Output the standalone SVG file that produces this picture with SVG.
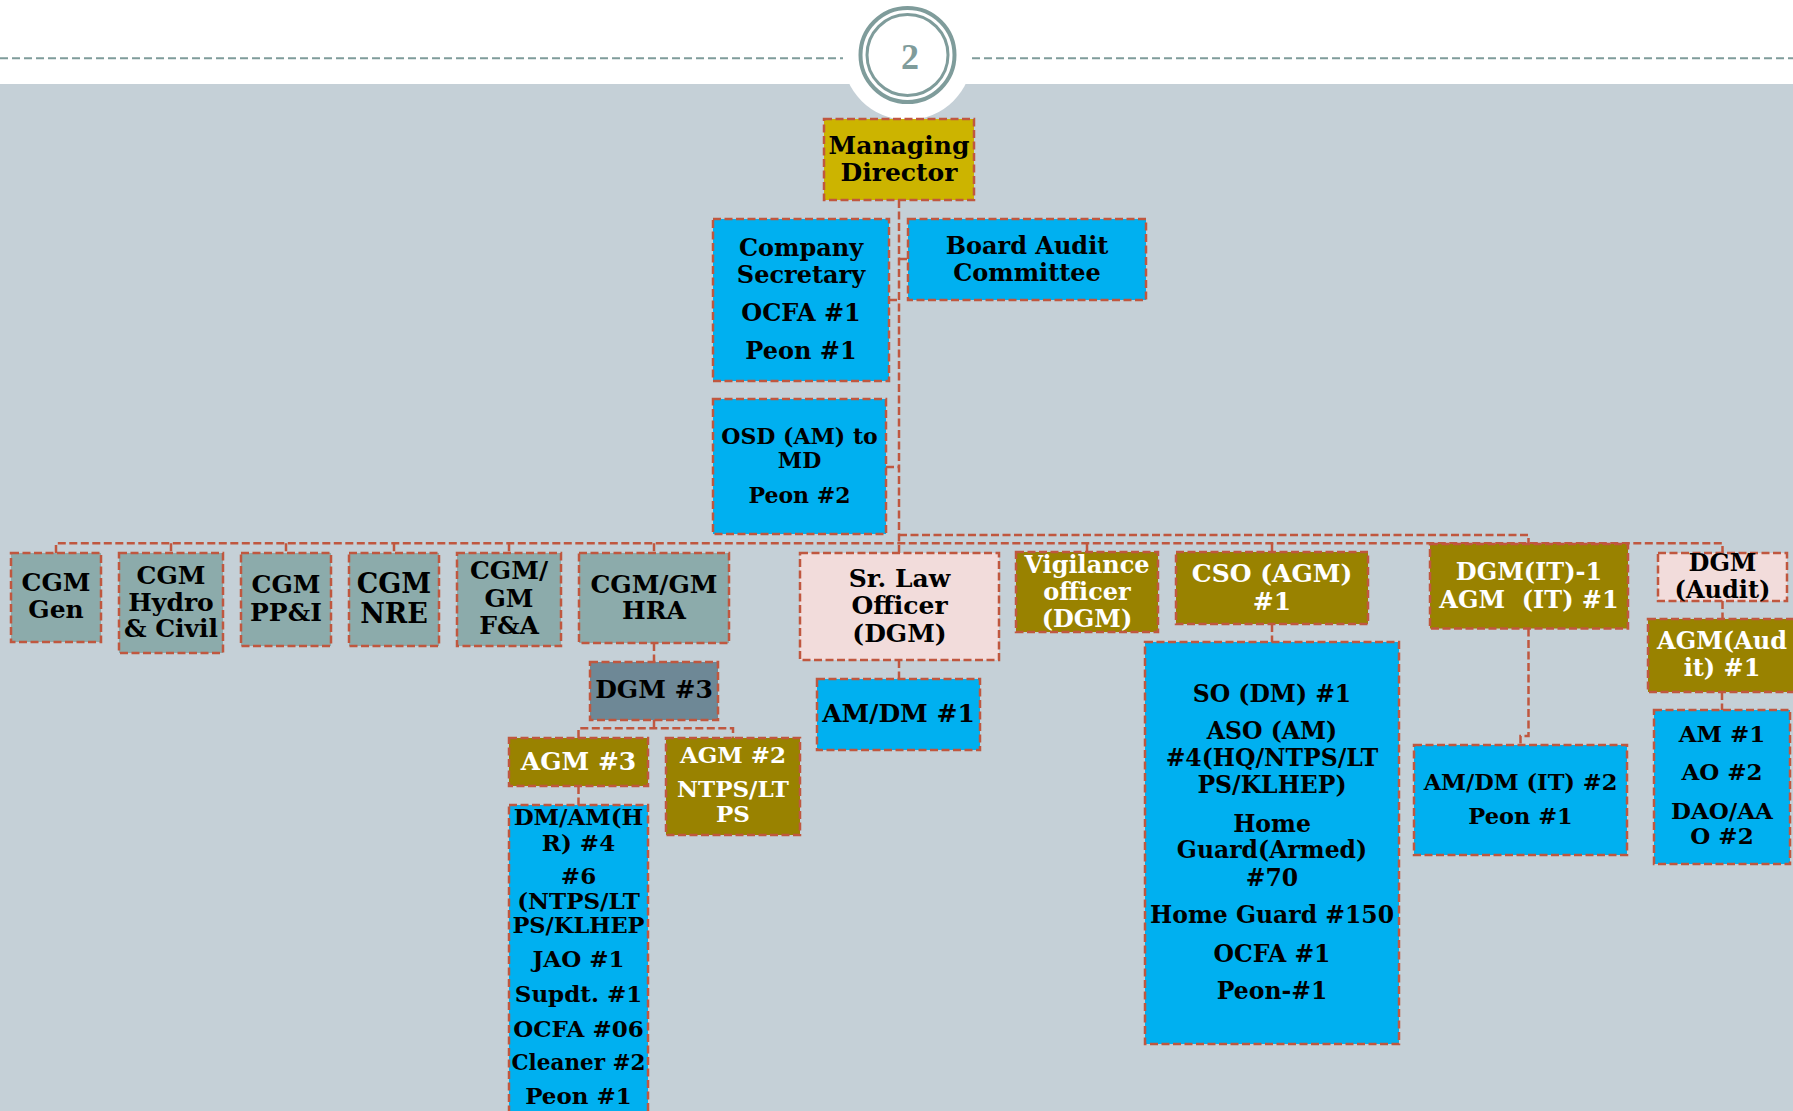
<svg xmlns="http://www.w3.org/2000/svg" width="1793" height="1111" viewBox="0 0 1793 1111">
<style>
.box{stroke:#c0573f;stroke-width:2.5;stroke-dasharray:8 3.5}
.blue{fill:#00b0f0}
.gold{fill:#ccb400}
.teal{fill:#8cabab}
.slate{fill:#6e8896}
.pink{fill:#f2dcdb}
.olive{fill:#998200}
text{font-family:"DejaVu Serif","Liberation Serif",serif;font-weight:bold;text-anchor:middle}
.k{fill:#000}
.w{fill:#fff}
#connectors path{fill:none;stroke:#c0573f;stroke-width:2.5;stroke-dasharray:8 3.5}
</style>
<rect x="0" y="0" width="1793" height="84" fill="#ffffff"/>
<rect x="0" y="84" width="1793" height="1027" fill="#c5d0d7"/>
<g id="header">
<circle cx="907.5" cy="55" r="65" fill="#ffffff"/>
<path d="M0 58.3H843M972 58.3H1793" stroke="#7f9c9b" stroke-width="2" stroke-dasharray="8 4" fill="none"/>
<circle cx="907.5" cy="55" r="47" fill="none" stroke="#7f9c9b" stroke-width="4"/>
<circle cx="907.5" cy="55" r="40.5" fill="none" stroke="#7f9c9b" stroke-width="3"/>
<text x="910" y="68.5" style="font-family:'Liberation Serif',serif;font-size:36px;fill:#7f9c9b">2</text>
</g>
<g id="connectors">
<path d="M899 200V553"/>
<path d="M889 300H899M899 259H908M886 467H899"/>
<path d="M899 535H1528.5V544"/>
<path d="M56 553V543.3H1722.5V553"/>
<path d="M171 543.3V553M286 543.3V553M394 543.3V553M509 543.3V553M654 543.3V553M1087 543.3V552M1272 543.3V552"/>
<path d="M654 643V662"/>
<path d="M654 720V728.3M578.5 738V728.3H733V738"/>
<path d="M578.5 786V805"/>
<path d="M899 660V679"/>
<path d="M1272 624V642"/>
<path d="M1528.5 628.5V736H1520.5V745"/>
<path d="M1722.5 601V619"/>
<path d="M1722 692V710"/>
</g>
<g id="md">
<rect class="box gold" x="824" y="119" width="150" height="81"/>
<text class="k" x="899" y="154" font-size="25">Managing</text>
<text class="k" x="899" y="180.7" font-size="25">Director</text>
</g>
<g id="company-secretary">
<rect class="box blue" x="713" y="219" width="176" height="162"/>
<text class="k" x="801" y="256" font-size="24">Company</text>
<text class="k" x="801" y="283" font-size="24">Secretary</text>
<text class="k" x="801" y="321" font-size="24">OCFA #1</text>
<text class="k" x="801" y="359" font-size="24">Peon #1</text>
</g>
<g id="board-audit">
<rect class="box blue" x="908" y="219" width="238" height="81"/>
<text class="k" x="1027" y="254" font-size="24">Board Audit</text>
<text class="k" x="1027" y="281" font-size="24">Committee</text>
</g>
<g id="osd">
<rect class="box blue" x="713" y="399" width="173" height="135"/>
<text class="k" x="799.5" y="444" font-size="22">OSD (AM) to</text>
<text class="k" x="799.5" y="468" font-size="22">MD</text>
<text class="k" x="799.5" y="503" font-size="22">Peon #2</text>
</g>
<g id="cgm-gen">
<rect class="box teal" x="11" y="553" width="90" height="89"/>
<text class="k" x="56" y="591" font-size="25">CGM</text>
<text class="k" x="56" y="618" font-size="25">Gen</text>
</g>
<g id="cgm-hydro">
<rect class="box teal" x="119" y="553" width="104" height="100"/>
<text class="k" x="171" y="584" font-size="25">CGM</text>
<text class="k" x="171" y="611" font-size="25">Hydro</text>
<text class="k" x="171" y="637" font-size="25">&amp; Civil</text>
</g>
<g id="cgm-ppi">
<rect class="box teal" x="241" y="553" width="90" height="93"/>
<text class="k" x="286" y="593" font-size="25">CGM</text>
<text class="k" x="286" y="621" font-size="25">PP&amp;I</text>
</g>
<g id="cgm-nre">
<rect class="box teal" x="349" y="553" width="90" height="93"/>
<text class="k" x="394" y="593" font-size="27">CGM</text>
<text class="k" x="394" y="623" font-size="27">NRE</text>
</g>
<g id="cgm-fa">
<rect class="box teal" x="457" y="553" width="104" height="93"/>
<text class="k" x="509" y="579" font-size="25">CGM/</text>
<text class="k" x="509" y="607" font-size="25">GM</text>
<text class="k" x="509" y="634" font-size="25">F&amp;A</text>
</g>
<g id="cgm-hra">
<rect class="box teal" x="579" y="553" width="150" height="90"/>
<text class="k" x="654" y="593" font-size="25">CGM/GM</text>
<text class="k" x="654" y="619" font-size="25">HRA</text>
</g>
<g id="dgm3">
<rect class="box slate" x="590" y="662" width="128" height="58"/>
<text class="k" x="654" y="698" font-size="25">DGM #3</text>
</g>
<g id="agm3">
<rect class="box olive" x="509" y="738" width="139" height="48"/>
<text class="w" x="578.5" y="770" font-size="25">AGM #3</text>
</g>
<g id="agm2">
<rect class="box olive" x="666" y="738" width="134" height="97"/>
<text class="w" x="733" y="763" font-size="23">AGM #2</text>
<text class="w" x="733" y="797" font-size="23">NTPS/LT</text>
<text class="w" x="733" y="821.7" font-size="23">PS</text>
</g>
<g id="dm-am-hr">
<rect class="box blue" x="509" y="805" width="139" height="320"/>
<text class="k" x="578.5" y="825" font-size="23">DM/AM(H</text>
<text class="k" x="578.5" y="851" font-size="23">R) #4</text>
<text class="k" x="578.5" y="884" font-size="23">#6</text>
<text class="k" x="578.5" y="909" font-size="23">(NTPS/LT</text>
<text class="k" x="578.5" y="933" font-size="22.5">PS/KLHEP</text>
<text class="k" x="578.5" y="967" font-size="23">JAO #1</text>
<text class="k" x="578.5" y="1002" font-size="23">Supdt. #1</text>
<text class="k" x="578.5" y="1037" font-size="23">OCFA #06</text>
<text class="k" x="578.5" y="1070" font-size="21.5">Cleaner #2</text>
<text class="k" x="578.5" y="1104" font-size="23">Peon #1</text>
</g>
<g id="sr-law">
<rect class="box pink" x="800" y="553" width="199" height="107"/>
<text class="k" x="899.5" y="587" font-size="25">Sr. Law</text>
<text class="k" x="899.5" y="614" font-size="25">Officer</text>
<text class="k" x="899.5" y="642" font-size="25">(DGM)</text>
</g>
<g id="am-dm1">
<rect class="box blue" x="817" y="679" width="163" height="71"/>
<text class="k" x="898.5" y="722" font-size="25">AM/DM #1</text>
</g>
<g id="vigilance">
<rect class="box olive" x="1016" y="552" width="142" height="80"/>
<text class="w" x="1087" y="573" font-size="24">Vigilance</text>
<text class="w" x="1087" y="600" font-size="24">officer</text>
<text class="w" x="1087" y="627" font-size="24">(DGM)</text>
</g>
<g id="cso">
<rect class="box olive" x="1176" y="552" width="192" height="72"/>
<text class="w" x="1272" y="582" font-size="25">CSO (AGM)</text>
<text class="w" x="1272" y="610" font-size="25">#1</text>
</g>
<g id="cso-staff">
<rect class="box blue" x="1145" y="642" width="254" height="402"/>
<text class="k" x="1272" y="701.7" font-size="23.5">SO (DM) #1</text>
<text class="k" x="1272" y="739.3" font-size="23.5">ASO (AM)</text>
<text class="k" x="1272" y="766" font-size="23.5">#4(HQ/NTPS/LT</text>
<text class="k" x="1272" y="793.3" font-size="23.5">PS/KLHEP)</text>
<text class="k" x="1272" y="831.7" font-size="23.5">Home</text>
<text class="k" x="1272" y="858.3" font-size="23.5">Guard(Armed)</text>
<text class="k" x="1272" y="885.7" font-size="23.5">#70</text>
<text class="k" x="1272" y="923.3" font-size="23.5">Home Guard #150</text>
<text class="k" x="1272" y="961.7" font-size="23.5">OCFA #1</text>
<text class="k" x="1272" y="999.3" font-size="23.5">Peon-#1</text>
</g>
<g id="dgm-it">
<rect class="box olive" x="1430" y="544" width="198" height="84.5"/>
<text class="w" x="1529" y="580" font-size="24">DGM(IT)-1</text>
<text class="w" x="1529" y="608.3" font-size="24" style="white-space:pre">AGM  (IT) #1</text>
</g>
<g id="am-dm-it">
<rect class="box blue" x="1414" y="745" width="213" height="110"/>
<text class="k" x="1520.5" y="790" font-size="22.5">AM/DM (IT) #2</text>
<text class="k" x="1520.5" y="824.3" font-size="22.5">Peon #1</text>
</g>
<g id="dgm-audit">
<rect class="box pink" x="1658" y="553" width="129" height="48"/>
<text class="k" x="1722.5" y="571" font-size="24">DGM</text>
<text class="k" x="1722.5" y="598" font-size="24">(Audit)</text>
</g>
<g id="agm-audit">
<rect class="box olive" x="1648" y="619" width="152" height="73"/>
<text class="w" x="1722" y="649.3" font-size="24">AGM(Aud</text>
<text class="w" x="1722" y="676" font-size="24">it) #1</text>
</g>
<g id="audit-staff">
<rect class="box blue" x="1654" y="710" width="136" height="154"/>
<text class="k" x="1722" y="741.7" font-size="23">AM #1</text>
<text class="k" x="1722" y="780" font-size="23">AO #2</text>
<text class="k" x="1722" y="819" font-size="23">DAO/AA</text>
<text class="k" x="1722" y="844" font-size="23">O #2</text>
</g>
</svg>
